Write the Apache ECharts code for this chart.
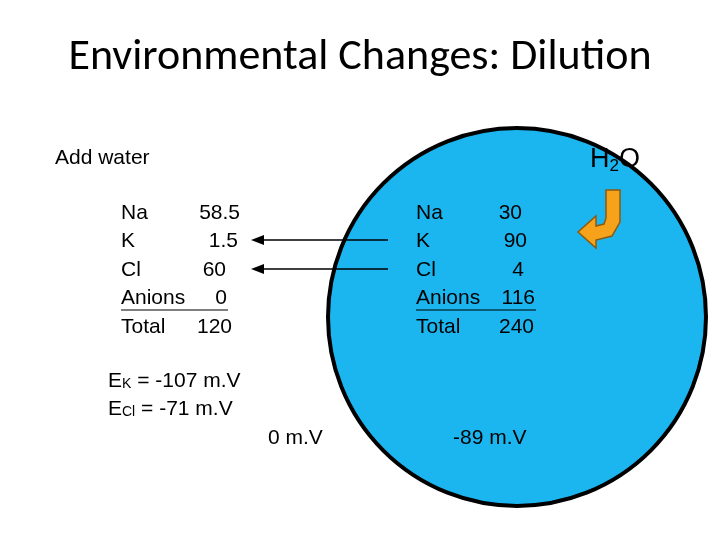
<!DOCTYPE html>
<html>
<head>
<meta charset="utf-8">
<script src="https://cdn.jsdelivr.net/npm/echarts@6/dist/echarts.min.js"></script>
<style>html,body{margin:0;background:#fff}#main{width:720px;height:540px}</style>
</head>
<body>
<div id="main"></div>
<script>
var ions = ['Na', 'K', 'Cl', 'Anions', 'Total'];
var outside = ['58.5', '1.5', '60', '0', '120'];
var inside = ['30', '90', '4', '116', '240'];
var potentials = [['K', '-107'], ['Cl', '-71']];
var membrane = ['0 m.V', '-89 m.V'];

var myChart = echarts.init(document.getElementById('main'));
var font = '"Liberation Sans", Arial, sans-serif';
var g = [];

function txt(x, y, s, size, align, extra) {
    var o = {
        type: 'text', x: x, y: y,
        style: { text: s, font: size + 'px ' + font, fill: '#000', align: align || 'left', verticalAlign: 'middle' }
    };
    if (extra) Object.assign(o.style, extra);
    g.push(o);
}

// cell
g.push({ type: 'circle', shape: { cx: 517, cy: 317, r: 189 }, style: { fill: '#1BB6EF', stroke: '#000', lineWidth: 4 } });

g.push({ type: 'text', x: 360, y: 58, style: { text: 'Environmental Changes: Dilution', font: '44px Carlito, Calibri, "Open Sans", sans-serif', fill: '#000', align: 'center', verticalAlign: 'middle' } });
txt(55, 158, 'Add water', 21);
txt(590, 160, '{a|H}{s|2}{a|O}', 27, 'left', { rich: { a: { font: '27px ' + font }, s: { font: '17px ' + font, padding: [12, 0, 0, 0] } } });

var rowY = [213, 241, 270, 298, 327];
ions.forEach(function (name, i) {
    txt(121, rowY[i], name, 21);
    txt([240, 238, 226, 227, 232][i], rowY[i], outside[i], 21, 'right');
    txt(416, rowY[i], name, 21);
    txt([522, 527, 524, 535, 534][i], rowY[i], inside[i], 21, 'right');
});
// underline on Anions rows
g.push({ type: 'line', shape: { x1: 121, y1: 310, x2: 228, y2: 310 }, style: { stroke: '#000', lineWidth: 1.2 } });
g.push({ type: 'line', shape: { x1: 416, y1: 310, x2: 536, y2: 310 }, style: { stroke: '#000', lineWidth: 1.2 } });

// arrows
[240, 269].forEach(function (y) {
    g.push({ type: 'line', shape: { x1: 388, y1: y, x2: 258, y2: y }, style: { stroke: '#000', lineWidth: 1.5 } });
    g.push({ type: 'polygon', shape: { points: [[251, y], [264, y - 5], [264, y + 5]] }, style: { fill: '#000' } });
});

potentials.forEach(function (p, i) {
    txt(108, 381 + i * 28, '{a|E}{s|' + p[0] + '}{a| = ' + p[1] + ' m.V}', 21, 'left',
        { rich: { a: { font: '21px ' + font }, s: { font: '14px ' + font, padding: [6, 0, 0, 0] } } });
});
txt(268, 438, membrane[0], 21);
txt(453, 438, membrane[1], 21);

// orange bent arrow
g.push({ type: 'polygon', shape: { points: [[606, 190], [620, 190], [620, 222], [612, 236], [596, 240], [596, 248], [578, 232], [596, 216], [596, 226], [604, 224], [606, 218]] },
    style: { fill: '#F7A21B', stroke: '#8a5a10', lineWidth: 1.5 } });

var option = { graphic: { elements: g } };
myChart.setOption(option, true);
</script>
</body>
</html>
